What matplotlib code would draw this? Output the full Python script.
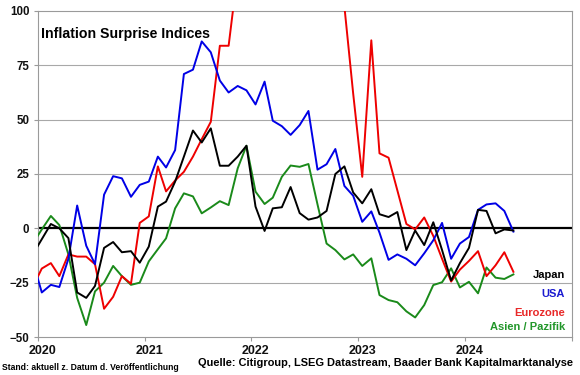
import matplotlib
matplotlib.use("Agg")
import matplotlib.pyplot as plt
import matplotlib.transforms as mtransforms
import pandas as pd

plt.rcParams['font.family'] = ['Liberation Sans', 'DejaVu Sans']
plt.rcParams['font.weight'] = 'bold'

# monthly points (mid-month), Dec 2019 .. Jun 2024
months = pd.date_range('2019-12-01', periods=55, freq='MS') + pd.Timedelta(days=14)
years = ['2020', '2021', '2022', '2023', '2024', '2025']
year_labels = ['2020', '2021', '2022', '2023', '2024', '']

japan = [-12, -5, 2, 0, -4.5, -29.5, -32, -26.5, -9, -6.3, -11, -10.5, -15.8, -8.4,
         10, 12.3, 21.5, 33, 45, 39.5, 46, 28.8, 28.8, 33, 38, 10, -1.2, 9.2, 9.7, 19,
         7, 4, 5, 8, 25, 28.5, 16.5, 11.5, 18, 6.5, 5.2, 7.5, -10, -1, -7.7, 2.8, -10,
         -24, -16, -9, 8.5, 8, -2.3, -0.5, -1]
usa = [-15, -29.5, -26, -27, -14, 10.5, -8, -16.5, 15.5, 24, 23, 14.5, 20, 21.5,
       33, 28, 36, 71, 73, 86, 81, 68, 62.5, 65.5, 63.5, 57, 67.5, 49.5, 47, 43,
       47.5, 54, 27, 29.5, 36.5, 19.5, 15, 3, 7.8, -2, -14.5, -12, -14, -17, -11.5,
       -5.5, 2.5, -14, -7, -4, 8.5, 11, 11.5, 8, -1.5]
eurozone = [-27, -18.5, -16, -22, -12, -13, -13, -16.5, -37, -31.5, -22, -25.5, 2.5, 5.5,
            28.5, 17, 22, 26, 33, 41, 49, 84, 84, 118, 140, 160, 170, 175, 165, 160,
            150, 145, 135, 125, 115, 102, 62, 23.7, 86.5, 34.5, 32.5, 17.5, 2, -0.5, 5,
            -3.5, -14, -24.5, -19, -15, -10.5, -22, -17, -11, -20]
asia = [-7, -0.5, 5.7, 1.5, -12, -32, -44.5, -29, -25, -17.3, -22, -26, -25, -15.2,
        -9.6, -4.6, 9.2, 16.1, 14.7, 6.9, 9.6, 12.5, 10.7, 27.6, 38, 16.9, 11.2, 14.1,
        23.7, 28.9, 28.3, 29.6, 11, -7, -10, -14.3, -12, -17.3, -13.8, -30.7, -33, -34,
        -38.2, -41, -35.3, -26.1, -24.8, -18.4, -27.2, -24.6, -29.9, -18, -22.7, -23.3,
        -21.2]

series = [("Japan", japan, "#000000", "#000000"),
          ("USA", usa, "#0000e6", "#1a1ad0"),
          ("Eurozone", eurozone, "#ee0000", "#e82828"),
          ("Asien / Pazifik", asia, "#1a8a1a", "#22962a")]

fig = plt.figure(figsize=(5.8, 3.75), dpi=100)
ax = fig.add_axes([0.065, 0.1013, 0.921, 0.8694])

ax.set_ylim(-50, 100)
ax.set_yticks([-50, -25, 0, 25, 50, 75, 100])
ax.set_xlim(pd.Timestamp('2020-01-01'), pd.Timestamp('2025-01-01'))
ax.set_xticks([pd.Timestamp(y + '-01-01') for y in years])
ax.set_xticklabels(year_labels)

for y in [-25, 25, 50, 75]:
    ax.axhline(y, color='#a8a8a8', lw=0.8, zorder=1)
ax.axhline(0, color='black', lw=1.6, zorder=2)

# green first so black/blue/red lie on top like the original
for name, vals, col, _ in series[::-1]:
    ax.plot(months, vals, color=col, lw=1.4, zorder=3)

for sp in ax.spines.values():
    sp.set_color('#9a9a9a')
    sp.set_linewidth(0.8)

ax.tick_params(axis='both', colors='#9a9a9a', length=3, width=0.8, labelcolor='#111111')
ax.tick_params(axis='y', labelsize=8.3, pad=3)
ax.tick_params(axis='x', labelsize=9, pad=3)
shift = mtransforms.ScaledTranslation(0.044, 0, fig.dpi_scale_trans)
for lbl in ax.get_xticklabels():
    lbl.set_fontweight('bold')
    lbl.set_transform(lbl.get_transform() + shift)
for lbl in ax.get_yticklabels():
    lbl.set_fontweight('bold')

ax.text(0.006, 0.93, "Inflation Surprise Indices", transform=ax.transAxes,
        fontsize=10.2, fontweight='bold', ha='left', va='center')

# legend as coloured text on the right
ypos = [275, 294, 312.7, 326.7]
for (name, vals, col, tcol), yp in zip(series, ypos):
    fig.text(565 / 580, 1 - yp / 375, name, color=tcol, fontsize=8,
             fontweight='bold', ha='right', va='center')

fig.text(2 / 580, 1 - 368 / 375, "Stand: aktuell z. Datum d. Veröffentlichung",
         fontsize=6.25, fontweight='bold', ha='left', va='center')
fig.text(573 / 580, 1 - 363 / 375,
         "Quelle: Citigroup, LSEG Datastream, Baader Bank Kapitalmarktanalyse",
         fontsize=7.9, fontweight='bold', ha='right', va='center')

fig.savefig("out.png", dpi=100)
